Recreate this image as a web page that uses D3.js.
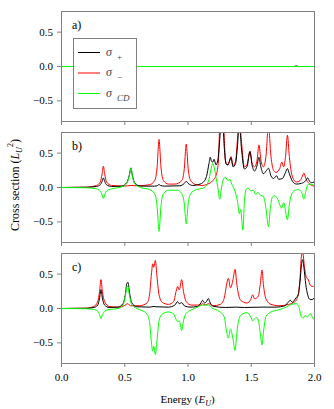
<!DOCTYPE html>
<html>
<head>
<meta charset="utf-8">
<script src="https://cdn.jsdelivr.net/npm/d3@7"></script>
<style>
  body { margin: 0; background: #fff; }
  svg, svg text { font-family: 'Liberation Serif', 'Times New Roman', serif; }
</style>
</head>
<body>
<div id="chart"></div>
<script>
// energy ticks and cross section ticks
var xTicks = [0, 0.5, 1.0, 1.5, 2.0]
var yTicks = [-0.5, 0, 0.5]
var panelNames = ['a)', 'b)', 'c)']

// panel a) : everything sits on zero
var aPlus = [[0, 0], [1.84, 0], [1.86, 0.008], [1.88, 0], [2.0, 0]]
var aMinus = [[0, 0], [2.0, 0]]
var aCD = [[0, 0], [2.0, 0]]

// panel b)
var bPlus = [[0, 0], [0.2, 0.003], [0.28, 0.015], [0.31, 0.04], [0.325, 0.09], [0.335, 0.14], [0.345, 0.09], [0.36, 0.04], [0.4, 0.015],
  [0.48, 0.02], [0.52, 0.07], [0.54, 0.18], [0.553, 0.285], [0.565, 0.17], [0.585, 0.06], [0.63, 0.02],
  [0.74, 0.02], [0.765, 0.03], [0.775, 0.045], [0.785, 0.03], [0.82, 0.02],
  [0.94, 0.025], [0.975, 0.06], [0.99, 0.09], [1.005, 0.06], [1.04, 0.03],
  [1.08, 0.04], [1.12, 0.07], [1.15, 0.16], [1.17, 0.35], [1.18, 0.44], [1.19, 0.38], [1.2, 0.37], [1.21, 0.41], [1.225, 0.33],
  [1.24, 0.4], [1.255, 0.7], [1.265, 0.9], [1.28, 0.9], [1.29, 0.6], [1.305, 0.34], [1.32, 0.33], [1.344, 0.43], [1.36, 0.3],
  [1.38, 0.35], [1.395, 0.6], [1.41, 0.95], [1.425, 0.6], [1.45, 0.27], [1.47, 0.3], [1.494, 0.52], [1.51, 0.33], [1.53, 0.24],
  [1.55, 0.32], [1.565, 0.44], [1.58, 0.3], [1.6, 0.2], [1.625, 0.25], [1.64, 0.28], [1.66, 0.17], [1.68, 0.13], [1.705, 0.17],
  [1.72, 0.12], [1.75, 0.13], [1.775, 0.22], [1.79, 0.275], [1.805, 0.2], [1.83, 0.09], [1.86, 0.05], [1.9, 0.06], [1.935, 0.1],
  [1.95, 0.14], [1.965, 0.09], [1.98, 0.07], [2.0, 0.08]]
var bMinus = [[0, 0], [0.2, 0.005], [0.28, 0.03], [0.31, 0.08], [0.325, 0.2], [0.335, 0.31], [0.345, 0.2], [0.36, 0.08], [0.4, 0.03],
  [0.5, 0.02], [0.553, 0.03], [0.6, 0.025], [0.7, 0.04], [0.74, 0.1], [0.76, 0.3], [0.768, 0.55], [0.775, 0.7], [0.782, 0.55],
  [0.79, 0.3], [0.81, 0.1], [0.85, 0.05], [0.9, 0.05], [0.955, 0.1], [0.975, 0.28], [0.983, 0.5], [0.99, 0.63], [0.997, 0.5],
  [1.005, 0.28], [1.025, 0.1], [1.07, 0.04], [1.12, 0.03], [1.16, 0.05], [1.2, 0.1], [1.23, 0.2], [1.245, 0.4], [1.255, 0.9],
  [1.27, 1.0], [1.285, 0.9], [1.3, 0.4], [1.315, 0.33], [1.33, 0.38], [1.344, 0.45], [1.36, 0.32], [1.38, 0.38], [1.395, 0.7],
  [1.41, 1.0], [1.425, 0.7], [1.45, 0.3], [1.47, 0.33], [1.494, 0.53], [1.51, 0.36], [1.53, 0.3], [1.55, 0.4], [1.565, 0.62],
  [1.58, 0.4], [1.6, 0.3], [1.62, 0.45], [1.64, 0.9], [1.66, 0.45], [1.68, 0.25], [1.7, 0.22], [1.73, 0.28], [1.745, 0.37],
  [1.76, 0.3], [1.775, 0.45], [1.79, 0.76], [1.805, 0.45], [1.83, 0.15], [1.86, 0.08], [1.89, 0.1], [1.905, 0.15], [1.92, 0.21],
  [1.935, 0.13], [1.96, 0.06], [2.0, 0.02]]
var bCD = [[0, 0], [0.2, -0.003], [0.28, -0.02], [0.31, -0.05], [0.325, -0.11], [0.335, -0.16], [0.345, -0.11], [0.36, -0.05], [0.4, -0.02],
  [0.48, 0.01], [0.52, 0.06], [0.54, 0.17], [0.553, 0.285], [0.565, 0.16], [0.585, 0.05], [0.63, 0.0],
  [0.7, -0.03], [0.74, -0.09], [0.76, -0.28], [0.768, -0.5], [0.775, -0.64], [0.782, -0.5], [0.79, -0.28], [0.81, -0.09], [0.85, -0.04],
  [0.92, -0.04], [0.955, -0.09], [0.975, -0.24], [0.983, -0.42], [0.99, -0.53], [0.997, -0.42], [1.005, -0.24], [1.025, -0.09],
  [1.07, -0.03], [1.12, -0.01], [1.15, 0.03], [1.17, 0.12], [1.19, 0.3], [1.2, 0.35], [1.21, 0.3], [1.225, 0.15], [1.24, 0.0],
  [1.255, -0.17], [1.265, -0.05], [1.28, 0.1], [1.3, 0.15], [1.32, 0.1], [1.335, 0.12], [1.35, 0.05], [1.375, -0.05], [1.395, -0.2],
  [1.41, -0.38], [1.42, -0.32], [1.438, -0.62], [1.45, -0.2], [1.465, -0.02], [1.48, -0.01], [1.5, -0.05], [1.52, -0.04], [1.54, -0.1],
  [1.555, -0.07], [1.575, -0.11], [1.6, -0.13], [1.62, -0.3], [1.64, -0.57], [1.655, -0.3], [1.67, -0.14], [1.69, -0.12], [1.71, -0.16],
  [1.745, -0.3], [1.76, -0.22], [1.79, -0.47], [1.805, -0.25], [1.83, -0.07], [1.87, -0.03], [1.9, -0.06], [1.92, -0.17], [1.935, -0.06],
  [1.95, 0.04], [1.97, 0.05], [2.0, 0.03]]

// panel c)
var cPlus = [[0, 0], [0.2, 0.003], [0.26, 0.015], [0.29, 0.05], [0.305, 0.15], [0.316, 0.275], [0.327, 0.15], [0.345, 0.05], [0.38, 0.015],
  [0.45, 0.02], [0.49, 0.07], [0.51, 0.22], [0.52, 0.36], [0.53, 0.38], [0.54, 0.25], [0.56, 0.08], [0.6, 0.025],
  [0.7, 0.02], [0.735, 0.03], [0.75, 0.025], [0.85, 0.02], [0.9, 0.05], [0.922, 0.1], [0.935, 0.07], [0.954, 0.085], [0.975, 0.04],
  [1.02, 0.02], [1.08, 0.03], [1.105, 0.08], [1.12, 0.12], [1.135, 0.08], [1.15, 0.1], [1.165, 0.145], [1.18, 0.08], [1.21, 0.03],
  [1.3, 0.015], [1.38, 0.02], [1.45, 0.015], [1.59, 0.02], [1.7, 0.02], [1.77, 0.04], [1.795, 0.09], [1.813, 0.12], [1.83, 0.09],
  [1.845, 0.12], [1.858, 0.155], [1.875, 0.2], [1.89, 0.4], [1.9, 0.62], [1.91, 0.71], [1.92, 0.6], [1.935, 0.35], [1.95, 0.2],
  [1.97, 0.13], [1.985, 0.13], [2.0, 0.15]]
var cMinus = [[0, 0], [0.2, 0.005], [0.26, 0.03], [0.29, 0.1], [0.305, 0.25], [0.316, 0.42], [0.327, 0.25], [0.345, 0.1], [0.38, 0.03],
  [0.45, 0.02], [0.5, 0.04], [0.527, 0.07], [0.55, 0.04], [0.62, 0.04], [0.68, 0.08], [0.7, 0.2], [0.715, 0.5], [0.725, 0.65],
  [0.733, 0.6], [0.746, 0.7], [0.757, 0.5], [0.775, 0.2], [0.8, 0.09], [0.85, 0.06], [0.89, 0.1], [0.91, 0.25], [0.922, 0.32],
  [0.935, 0.27], [0.954, 0.42], [0.968, 0.25], [0.99, 0.1], [1.03, 0.05], [1.1, 0.05], [1.12, 0.07], [1.14, 0.05], [1.165, 0.07],
  [1.2, 0.04], [1.26, 0.06], [1.29, 0.15], [1.31, 0.36], [1.323, 0.44], [1.34, 0.3], [1.36, 0.42], [1.376, 0.57], [1.39, 0.35],
  [1.42, 0.12], [1.47, 0.08], [1.5, 0.13], [1.515, 0.2], [1.53, 0.14], [1.56, 0.18], [1.575, 0.35], [1.589, 0.56], [1.6, 0.35],
  [1.62, 0.14], [1.66, 0.06], [1.72, 0.04], [1.8, 0.06], [1.85, 0.1], [1.875, 0.2], [1.89, 0.45], [1.9, 0.75], [1.91, 0.82],
  [1.925, 0.6], [1.94, 0.45], [1.955, 0.42], [1.97, 0.34], [1.99, 0.32], [2.0, 0.33]]
var cCD = [[0, 0], [0.2, -0.003], [0.26, -0.015], [0.29, -0.04], [0.305, -0.09], [0.316, -0.145], [0.327, -0.09], [0.345, -0.04], [0.38, -0.015],
  [0.45, 0.0], [0.49, 0.05], [0.51, 0.2], [0.52, 0.3], [0.527, 0.33], [0.54, 0.2], [0.56, 0.05], [0.6, 0.0],
  [0.64, -0.03], [0.68, -0.08], [0.7, -0.2], [0.715, -0.5], [0.725, -0.62], [0.733, -0.55], [0.746, -0.67], [0.757, -0.5], [0.775, -0.18],
  [0.8, -0.08], [0.85, -0.05], [0.89, -0.08], [0.91, -0.16], [0.922, -0.19], [0.935, -0.18], [0.954, -0.32], [0.968, -0.18], [0.99, -0.07],
  [1.03, -0.02], [1.08, 0.02], [1.12, 0.05], [1.165, 0.05], [1.2, 0.0], [1.25, -0.04], [1.29, -0.12], [1.31, -0.35], [1.323, -0.43],
  [1.34, -0.3], [1.36, -0.45], [1.376, -0.61], [1.39, -0.35], [1.42, -0.1], [1.47, -0.06], [1.5, -0.12], [1.515, -0.18], [1.53, -0.15],
  [1.545, -0.13], [1.56, -0.17], [1.575, -0.35], [1.589, -0.53], [1.6, -0.35], [1.62, -0.12], [1.66, -0.05], [1.72, -0.02], [1.78, 0.02],
  [1.82, 0.06], [1.86, 0.07], [1.88, 0.03], [1.9, -0.12], [1.915, -0.14], [1.93, -0.1], [1.945, -0.13], [1.96, -0.09], [1.975, -0.08],
  [1.99, -0.14], [2.0, -0.16]]

var panels = [
  { name: panelNames[0], plus: aPlus, minus: aMinus, cd: aCD },
  { name: panelNames[1], plus: bPlus, minus: bMinus, cd: bCD },
  { name: panelNames[2], plus: cPlus, minus: cMinus, cd: cCD }
]

var width = 334
var height = 409
var left = 61
var right = 314
var panelTop = [11, 132, 253]
var panelHeight = 110
var frameColor = '#808080'
var serif = "'Liberation Serif', 'Times New Roman', serif"

var svg = d3
  .select('#chart')
  .append('svg')
  .attr('width', width)
  .attr('height', height)

var xScale = d3.scaleLinear().domain([0, 2]).range([left, right])

panels.forEach(function(p, i) {
  var top = panelTop[i]
  var yScale = d3
    .scaleLinear()
    .domain([-0.8, 0.8])
    .range([top + panelHeight, top])

  var line = d3
    .line()
    .x(d => xScale(d[0]))
    .y(d => yScale(d[1]))
    .curve(d3.curveMonotoneX)

  var g = svg.append('g').attr('class', 'panel')

  g.append('clipPath')
    .attr('id', 'clip' + i)
    .append('rect')
    .attr('x', left)
    .attr('y', top)
    .attr('width', right - left)
    .attr('height', panelHeight)

  // half pixel shift so flat lines land on one pixel row
  var lines = g.append('g')
    .attr('clip-path', 'url(#clip' + i + ')')
    .append('g')
    .attr('transform', 'translate(0,0.5)')

  lines.append('path').datum(p.minus).attr('d', line)
    .attr('fill', 'none').attr('stroke', '#ff0000').attr('stroke-width', 1)
  lines.append('path').datum(p.plus).attr('d', line)
    .attr('fill', 'none').attr('stroke', '#000000').attr('stroke-width', 1)
  lines.append('path').datum(p.cd).attr('d', line)
    .attr('fill', 'none').attr('stroke', '#00ff00').attr('stroke-width', 1)

  // left axis
  var yAxis = g.append('g')
    .attr('transform', 'translate(' + left + ',0)')
    .call(d3.axisLeft(yScale).tickValues(yTicks).tickSize(4).tickPadding(4).tickFormat(d3.format('.1f')))
  yAxis.select('.domain').remove()

  // bottom axis
  var xAxis = g.append('g')
    .attr('transform', 'translate(0,' + (top + panelHeight) + ')')
    .call(d3.axisBottom(xScale).tickValues(xTicks).tickSize(4).tickPadding(6).tickFormat(d3.format('.1f')))
  xAxis.select('.domain').remove()
  if (i < 2) xAxis.selectAll('text').remove()

  yAxis.attr('font-family', serif).attr('font-size', 11)
  xAxis.attr('font-family', serif).attr('font-size', 11)
  g.selectAll('.tick line').attr('stroke', frameColor)
  g.selectAll('.tick text').attr('fill', '#000')

  // frame
  g.append('rect')
    .attr('x', left + 0.5)
    .attr('y', top + 0.5)
    .attr('width', right - left)
    .attr('height', panelHeight)
    .attr('fill', 'none')
    .attr('stroke', frameColor)
    .attr('stroke-width', 1)

  g.append('text')
    .attr('x', left + 11)
    .attr('y', top + 18)
    .attr('font-size', 12)
    .text(p.name)
})

// legend in panel a)
var legendItems = [
  { sub: '+', color: '#000000' },
  { sub: '\u2212', color: '#ff0000' },
  { sub: 'CD', color: '#00ff00', italic: true }
]

var legend = svg.append('g').attr('class', 'legend')
legend.append('rect')
  .attr('x', 73.5)
  .attr('y', 38.5)
  .attr('width', 63)
  .attr('height', 70)
  .attr('fill', '#fff')
  .attr('stroke', frameColor)

legendItems.forEach(function(d, i) {
  var y = 52.5 + i * 20.5
  legend.append('line')
    .attr('x1', 78).attr('x2', 100)
    .attr('y1', y).attr('y2', y)
    .attr('stroke', d.color)
    .attr('stroke-width', 1)
  var t = legend.append('text')
    .attr('x', 106)
    .attr('y', y + 3)
    .attr('font-size', 12)
    .attr('fill', '#444')
  t.append('tspan').attr('font-style', 'italic').text('\u03c3')
  t.append('tspan')
    .attr('dx', 5)
    .attr('dy', 4)
    .attr('font-size', 9)
    .attr('font-style', d.italic ? 'italic' : 'normal')
    .text(d.sub)
})

// axis titles
var xTitle = svg.append('text')
  .attr('x', (left + right) / 2)
  .attr('y', 403)
  .attr('text-anchor', 'middle')
  .attr('font-size', 11)
xTitle.append('tspan').text('Energy (')
xTitle.append('tspan').attr('font-style', 'italic').text('E')
xTitle.append('tspan').attr('font-style', 'italic').attr('font-size', 8).attr('dy', 3).text('U')
xTitle.append('tspan').attr('dy', -3).text(')')

var yTitle = svg.append('text')
  .attr('transform', 'translate(19,' + 185 + ') rotate(-90)')
  .attr('text-anchor', 'middle')
  .attr('font-size', 12)
yTitle.append('tspan').text('Cross section (')
yTitle.append('tspan').attr('font-style', 'italic').text('L')
yTitle.append('tspan').attr('font-style', 'italic').attr('font-size', 8).attr('dy', 3).text('U')
yTitle.append('tspan').attr('font-size', 8).attr('dy', -9).text('2')
yTitle.append('tspan').attr('dy', 6).text(')')
</script>
</body>
</html>
